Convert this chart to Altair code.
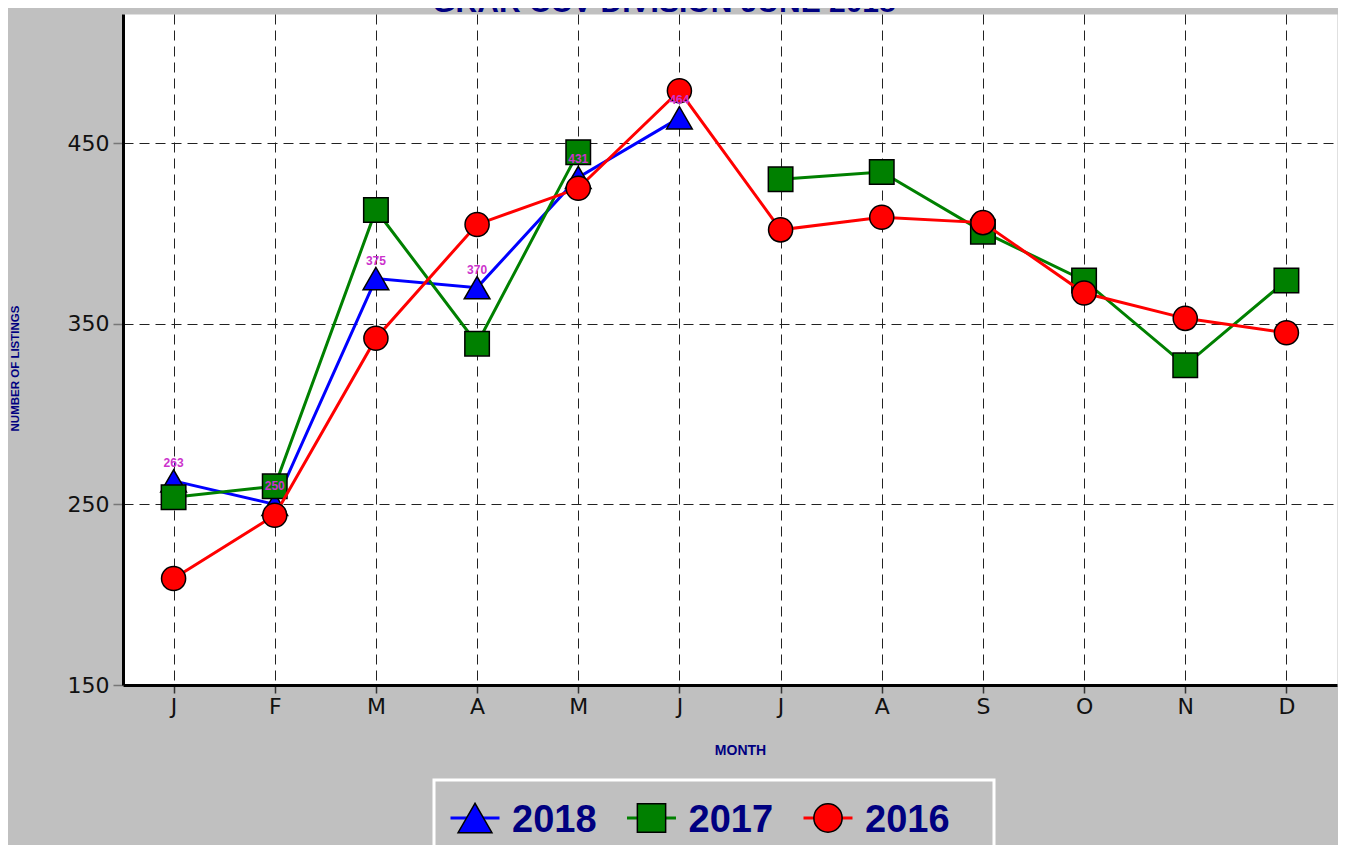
import json
import altair as alt
import pandas as pd

# ---------------- data ----------------
MONTHS = ["J", "F", "M", "A", "M", "J", "J", "A", "S", "O", "N", "D"]
YEARS = ["2018", "2017", "2016"]
V2018 = [263, 250, 375, 370, 431, 464, None, None, None, None, None, None]
V2017 = [254, 260, 413, 339, 445, None, 430, 434, 401, 374, 327, 374]
V2016 = [209, 244, 342, 405, 425, 479, 402, 409, 406, 367, 353, 345]
SERIES = {"2018": V2018, "2017": V2017, "2016": V2016}
LABELED_YEAR = "2018"
TITLE = "GRAR CCV DIVISION JUNE 2018"
Y_TICKS = [150, 250, 350, 450]

# ---------------- styles ----------------
COLORS = ["#0000FF", "#008000", "#FF0000"]
SHAPES = ["triangle-up", "square", "circle"]
PT_SIZE = {"2018": 660, "2017": 600, "2016": 580}
LEG_SIZE = {"2018": 1150, "2017": 800, "2016": 800}
NAVY = "#000080"
FONT = "Liberation Sans"
TICK_FONT = "DejaVu Sans"

rows = []
for yr, vals in SERIES.items():
    seg = 0
    for i, v in enumerate(vals):
        if v is None:
            seg += 1
            continue
        rows.append({"year": yr, "month": i + 1, "value": v, "seg": f"{yr}-{seg}"})
df = pd.DataFrame(rows)

color_scale = alt.Scale(domain=YEARS, range=COLORS)
shape_scale = alt.Scale(domain=YEARS, range=SHAPES)

label_expr = json.dumps(MONTHS) + "[datum.value - 1]"

x_enc = alt.X(
    "month:Q",
    scale=alt.Scale(domain=[0.5, 12.5], nice=False, zero=False),
    axis=alt.Axis(
        values=list(range(1, 13)), labelExpr=label_expr, title="MONTH",
        titleX=617, titleY=65, titleBaseline="middle", titleAlign="center",
        titleFontSize=14, titleColor=NAVY, titleFontWeight="bold", titleFont=FONT,
        labelFontSize=22, labelFont=TICK_FONT, labelColor="#111111", labelPadding=3,
        tickSize=8, tickColor="#333333", tickWidth=1.5,
        domainColor="black", domainWidth=3,
        grid=True, gridColor="#222222", gridDash=[10, 6], gridWidth=1,
    ),
)
y_enc = alt.Y(
    "value:Q",
    scale=alt.Scale(domain=[150, 521.5], nice=False, zero=False),
    axis=alt.Axis(
        values=Y_TICKS, title="NUMBER OF LISTINGS",
        titleX=-108, titleY=354, titleBaseline="middle", titleAlign="center",
        titleFontSize=11.5, titleColor=NAVY, titleFontWeight="bold", titleFont=FONT,
        labelFontSize=22, labelFont=TICK_FONT, labelColor="#111111", labelPadding=4,
        tickSize=10, tickColor="#777777", tickWidth=1.5,
        domainColor="black", domainWidth=3,
        grid=True, gridColor="#222222", gridDash=[10, 6], gridWidth=1,
    ),
)

base = alt.Chart(df)
data_layers = []
for yr in YEARS:
    sub = base.transform_filter(alt.datum.year == yr)
    data_layers.append(
        sub.mark_line(strokeWidth=3).encode(
            x=x_enc, y=y_enc,
            color=alt.Color("year:N", scale=color_scale, legend=None),
            detail="seg:N",
        )
    )
    data_layers.append(
        sub.mark_point(filled=True, opacity=1, stroke="black", strokeWidth=1.5,
                       size=PT_SIZE[yr]).encode(
            x=x_enc, y=y_enc,
            fill=alt.Fill("year:N", scale=color_scale, legend=None),
            shape=alt.Shape("year:N", scale=shape_scale, legend=None),
        )
    )
data_layers.append(
    base.transform_filter(alt.datum.year == LABELED_YEAR)
    .mark_text(dy=-18, fontSize=12, fontWeight="bold", font=FONT, color="#CC33CC")
    .encode(x=x_enc, y=y_enc, text="value:Q")
)
main = alt.layer(*data_layers)

# ---------------- title (cut off at the top, as in the reference) ----------------
title = alt.Chart(pd.DataFrame({"t": [TITLE]})).mark_text(
    fontSize=30, fontWeight="bold", font=FONT, color=NAVY, align="center",
    baseline="alphabetic",
).encode(text="t:N", x=alt.value(541), y=alt.value(-2))

# ---------------- legend ----------------
leg_df = pd.DataFrame({"year": YEARS, "pos": list(range(len(YEARS)))})
leg_x = alt.X("pos:Q", scale=alt.Scale(domain=[0, 2], range=[352, 705]), axis=None)
leg_base = alt.Chart(leg_df)

box = alt.Chart(pd.DataFrame({"b": [1]})).mark_rect(
    fill="#C0C0C0", stroke="white", strokeWidth=3
).encode(x=alt.value(311), x2=alt.value(871), y=alt.value(766), y2=alt.value(860))

leg_layers = [box]
for yr in YEARS:
    s = leg_base.transform_filter(alt.datum.year == yr)
    leg_layers.append(
        s.mark_point(shape="stroke", size=2400, strokeWidth=3, opacity=1).encode(
            x=leg_x, y=alt.value(804),
            color=alt.Color("year:N", scale=color_scale, legend=None),
        )
    )
    leg_layers.append(
        s.mark_point(filled=True, opacity=1, stroke="black", strokeWidth=1.5,
                     size=LEG_SIZE[yr]).encode(
            x=leg_x, y=alt.value(804),
            fill=alt.Fill("year:N", scale=color_scale, legend=None),
            shape=alt.Shape("year:N", scale=shape_scale, legend=None),
        )
    )
leg_layers.append(
    leg_base.mark_text(align="left", baseline="alphabetic", dx=37, fontSize=38,
                       fontWeight="bold", font=FONT, color=NAVY).encode(
        x=leg_x, y=alt.value(818), text="year:N"
    )
)
legend = alt.layer(*leg_layers)

chart = (
    alt.layer(main, title, legend)
    .resolve_scale(x="independent")
    .properties(
        width=1214, height=671, background="#C0C0C0",
        padding={"left": 115, "top": 6, "right": 1, "bottom": 160},
        autosize=alt.AutoSizeParams(type="none"),
    )
    .configure_view(fill="white", stroke="transparent")
)

chart.save("out.html", embed_options={"renderer": "svg", "actions": False})
